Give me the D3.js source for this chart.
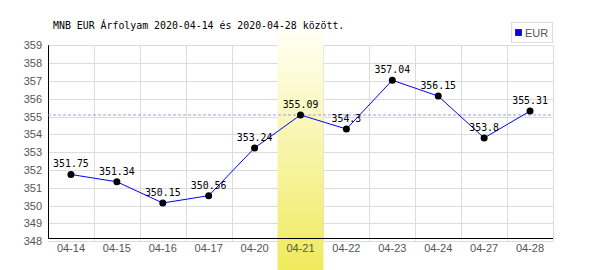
<!DOCTYPE html>
<html><head><meta charset="utf-8">
<script src="https://cdn.jsdelivr.net/npm/d3@7"></script>
<style>body{margin:0;background:#fff}svg{display:block}</style>
</head><body><svg id="c" width="600" height="270"></svg>
<script>
const categories = ["04-14","04-15","04-16","04-17","04-20","04-21","04-22","04-23","04-24","04-27","04-28"];
const values = [351.75,351.34,350.15,350.56,353.24,355.09,354.3,357.04,356.15,353.8,355.31];
const yTicks = [348,349,350,351,352,353,354,355,356,357,358,359];
const refValue = 355.09;
const highlightCat = "04-21";
const seriesName = "EUR";
const title = "MNB EUR Árfolyam 2020-04-14 és 2020-04-28 között.";

const svg = d3.select("#c");
const L = 48, R = 553;
const x = d3.scaleBand().domain(categories).range([L, R]);
const y = d3.scaleLinear().domain([348, 359]).range([241.3, 45.3]);
const axisY = 238.5;

const defs = svg.append("defs");
const g = defs.append("linearGradient").attr("id","hl").attr("x1",0).attr("y1",0).attr("x2",0).attr("y2",1);
g.append("stop").attr("offset","0%").attr("stop-color","#fffff4");
g.append("stop").attr("offset","100%").attr("stop-color","#f0ea5c");

// grid
svg.append("g").selectAll("line").data(yTicks).join("line")
  .attr("x1", L).attr("x2", R).attr("y1", d=>Math.round(y(d))+0.5).attr("y2", d=>Math.round(y(d))+0.5)
  .attr("stroke","#dcdcdc").attr("stroke-width",1);
svg.append("g").selectAll("line").data(categories.slice(1).concat(["end"])).join("line")
  .attr("x1", (d,i)=>Math.round(i<categories.length-1 ? x(d) : R)+0.5)
  .attr("x2", (d,i)=>Math.round(i<categories.length-1 ? x(d) : R)+0.5)
  .attr("y1", y(359)).attr("y2", y(348))
  .attr("stroke","#dcdcdc").attr("stroke-width",1);

// highlight
svg.append("rect").attr("x", x(highlightCat)).attr("y", 30).attr("width", x.bandwidth()).attr("height", 240)
  .attr("fill","url(#hl)");

// axes lines
svg.append("line").attr("x1", L+0.5).attr("x2", L+0.5).attr("y1", y(359)).attr("y2", axisY).attr("stroke","#000");
svg.append("line").attr("x1", L).attr("x2", R).attr("y1", axisY).attr("y2", axisY).attr("stroke","#000");

// y labels
svg.append("g").selectAll("text").data(yTicks).join("text")
  .attr("x", 42).attr("y", d=>y(d)).attr("dy","0.36em").attr("text-anchor","end")
  .attr("font-family","Liberation Sans, Arial, sans-serif").attr("font-size","11px").attr("fill","#555")
  .text(d=>d);
// x labels
svg.append("g").selectAll("text").data(categories).join("text")
  .attr("x", d=>x(d)+x.bandwidth()/2).attr("y", 252).attr("text-anchor","middle")
  .attr("font-family","Liberation Sans, Arial, sans-serif").attr("font-size","11px").attr("fill","#555")
  .text(d=>d);

// reference dashed line
svg.append("line").attr("x1", L).attr("x2", R).attr("y1", y(refValue)).attr("y2", y(refValue))
  .attr("stroke","#9a9aee").attr("stroke-dasharray","3,2").attr("stroke-width",1);

// series line
const line = d3.line().x((d,i)=>x(categories[i])+x.bandwidth()/2).y(d=>y(d));
svg.append("path").datum(values).attr("d", line).attr("fill","none").attr("stroke","#0000ff").attr("stroke-width",1);
svg.append("g").selectAll("circle").data(values).join("circle")
  .attr("cx",(d,i)=>x(categories[i])+x.bandwidth()/2).attr("cy", d=>y(d)).attr("r",3.5).attr("fill","#000");
svg.append("g").selectAll("text").data(values).join("text")
  .attr("x",(d,i)=>x(categories[i])+x.bandwidth()/2).attr("y", d=>y(d)-7).attr("text-anchor","middle")
  .attr("font-family","DejaVu Sans Mono, monospace").attr("font-size","9.9px").attr("fill","#000")
  .text(d=>d);

// title
svg.append("text").attr("x",53).attr("y",29).attr("font-family","DejaVu Sans Mono, monospace")
  .attr("font-size","9.9px").attr("fill","#000").text(title);

// legend
svg.append("rect").attr("x",511.5).attr("y",22.5).attr("width",41).attr("height",20).attr("fill","#fff").attr("stroke","#dcdcdc");
svg.append("rect").attr("x",515.5).attr("y",29.5).attr("width",6).attr("height",6).attr("fill","#0000ff").attr("stroke","#333");
svg.append("text").attr("x",525).attr("y",36.5).attr("font-family","Liberation Sans, Arial, sans-serif")
  .attr("font-size","11px").attr("fill","#555").text(seriesName);
</script></body></html>
